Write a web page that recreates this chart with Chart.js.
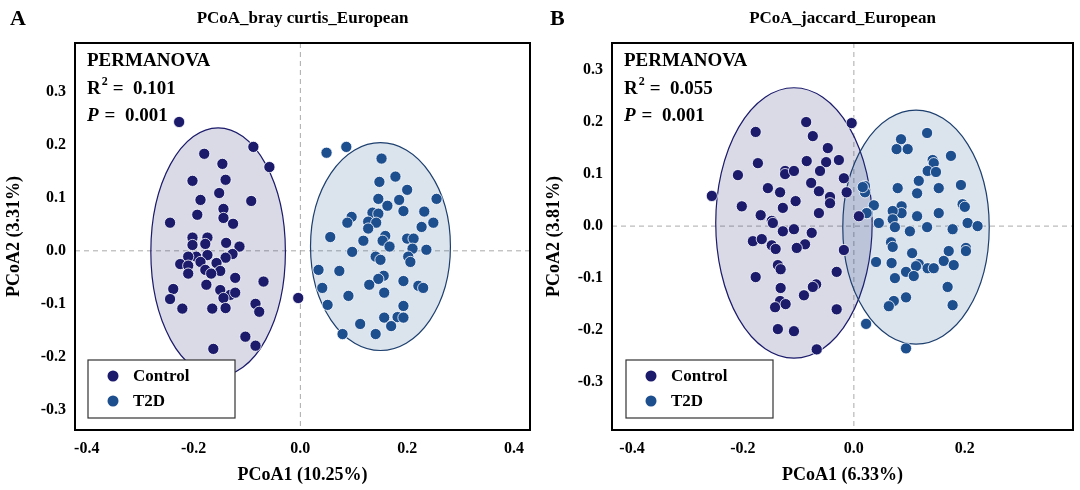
<!DOCTYPE html>
<html>
<head>
<meta charset="utf-8">
<script src="https://cdn.jsdelivr.net/npm/chart.js@4.4.0/dist/chart.umd.min.js"></script>
<style>
  body { margin: 0; background: #fff; }
  .wrap { display: flex; width: 1080px; height: 490px; }
  .panel { position: relative; width: 540px; height: 490px; }
</style>
</head>
<body>
<div class="wrap">
  <div class="panel"><canvas id="chartA" width="540" height="490"></canvas></div>
  <div class="panel"><canvas id="chartB" width="540" height="490"></canvas></div>
</div>
<script>
// panel A: bray curtis
const ctrlAx = [-0.227,-0.18,-0.146,-0.088,-0.058,-0.202,-0.14,-0.152,-0.092,-0.187,-0.144,-0.193,-0.144,-0.126,-0.244,-0.202,-0.174,-0.202,-0.178,-0.139,-0.114,-0.127,-0.174,-0.195,-0.21,-0.14,-0.187,-0.225,-0.21,-0.157,-0.178,-0.15,-0.21,-0.167,-0.122,-0.069,-0.176,-0.238,-0.15,-0.131,-0.122,-0.144,-0.244,-0.084,-0.221,-0.165,-0.14,-0.077,-0.103,-0.084,-0.163,-0.004];
const ctrlAy = [0.243,0.183,0.164,0.196,0.158,0.132,0.134,0.109,0.094,0.096,0.079,0.068,0.062,0.051,0.053,0.025,0.025,0.011,0.013,0.015,0.008,-0.006,-0.008,-0.011,-0.011,-0.013,-0.021,-0.025,-0.028,-0.023,-0.036,-0.038,-0.043,-0.043,-0.051,-0.058,-0.064,-0.072,-0.074,-0.083,-0.079,-0.089,-0.091,-0.1,-0.109,-0.109,-0.108,-0.115,-0.162,-0.179,-0.185,-0.089];
const t2dAx = [0.049,0.086,0.152,0.178,0.148,0.2,0.146,0.185,0.255,0.163,0.193,0.232,0.135,0.146,0.096,0.088,0.127,0.142,0.249,0.227,0.127,0.056,0.118,0.159,0.154,0.2,0.212,0.167,0.21,0.236,0.097,0.141,0.15,0.202,0.206,0.034,0.073,0.156,0.146,0.193,0.221,0.23,0.129,0.041,0.157,0.09,0.051,0.193,0.157,0.182,0.193,0.112,0.17,0.079,0.141];
const t2dAy = [0.185,0.196,0.174,0.14,0.13,0.115,0.098,0.096,0.098,0.085,0.075,0.074,0.072,0.07,0.064,0.053,0.055,0.053,0.053,0.045,0.042,0.026,0.019,0.028,0.019,0.023,0.023,0.008,0.004,0.002,-0.002,-0.011,-0.017,-0.011,-0.021,-0.036,-0.038,-0.047,-0.053,-0.057,-0.066,-0.07,-0.064,-0.07,-0.079,-0.085,-0.102,-0.104,-0.126,-0.125,-0.126,-0.138,-0.142,-0.157,-0.157];

// panel B: jaccard
const ctrlBx = [-0.086,-0.004,-0.177,-0.074,-0.047,-0.173,-0.085,-0.05,-0.027,-0.209,-0.124,-0.124,-0.108,-0.061,-0.018,-0.077,-0.155,-0.133,-0.063,-0.013,-0.256,-0.043,-0.043,-0.105,-0.202,-0.128,-0.063,-0.168,-0.148,0.009,-0.146,-0.128,-0.108,-0.076,-0.182,-0.166,-0.148,-0.141,-0.088,-0.103,-0.018,-0.137,-0.132,-0.031,-0.177,-0.132,-0.068,-0.074,-0.09,-0.133,-0.142,-0.123,-0.031,-0.137,-0.108,-0.067];
const ctrlBy = [0.2,0.198,0.181,0.173,0.15,0.121,0.125,0.123,0.127,0.098,0.106,0.1,0.106,0.106,0.092,0.083,0.073,0.065,0.067,0.065,0.058,0.056,0.044,0.048,0.038,0.035,0.025,0.021,0.01,0.019,0.006,-0.01,-0.006,-0.013,-0.029,-0.025,-0.037,-0.044,-0.035,-0.042,-0.046,-0.075,-0.083,-0.088,-0.098,-0.119,-0.112,-0.117,-0.133,-0.144,-0.156,-0.15,-0.16,-0.198,-0.202,-0.237];
const t2dBx = [0.132,0.085,0.077,0.097,0.175,0.142,0.144,0.133,0.148,0.117,0.02,0.02,0.079,0.153,0.193,0.114,0.036,0.025,0.086,0.086,0.07,0.07,0.196,0.2,0.114,0.153,0.045,0.205,0.223,0.074,0.132,0.101,0.178,0.067,0.07,0.202,0.202,0.105,0.171,0.04,0.068,0.117,0.112,0.162,0.18,0.133,0.144,0.094,0.108,0.074,0.169,0.094,0.072,0.063,0.178,0.022,0.094,0.016,0.023];
const t2dBy = [0.179,0.167,0.148,0.148,0.135,0.127,0.121,0.106,0.104,0.087,0.077,0.065,0.073,0.073,0.079,0.063,0.04,0.025,0.038,0.025,0.029,0.013,0.042,0.037,0.019,0.025,0.006,0.006,0,-0.002,-0.002,-0.01,-0.006,-0.031,-0.04,-0.042,-0.048,-0.052,-0.048,-0.069,-0.071,-0.073,-0.077,-0.067,-0.075,-0.081,-0.081,-0.088,-0.096,-0.1,-0.117,-0.137,-0.144,-0.154,-0.152,-0.188,-0.235,0.075,0.025];

// ellipses: [centerX, centerY, radiusX, radiusY]
const ellCtrlA = [-0.154, -0.002, 0.126, 0.234];
const ellT2dA = [0.15, 0.008, 0.131, 0.196];
const ellCtrlB = [-0.108, 0.006, 0.141, 0.26];
const ellT2dB = [0.112, -0.002, 0.132, 0.225];

const groups = ["Control", "T2D"];
const xTicksA = [-0.4, -0.2, 0, 0.2, 0.4];
const xTicksB = [-0.4, -0.2, 0, 0.2];
const yTicks = [-0.3, -0.2, -0.1, 0, 0.1, 0.2, 0.3];

const ctrlColor = "#1b1a6b";
const t2dColor = "#1d4e8e";
const serif = "'Liberation Serif', 'DejaVu Serif', serif";

function pts(xs, ys) { return xs.map((x, i) => ({ x: x, y: ys[i] })); }
function fmt(v) { return Math.abs(v) < 1e-9 ? "0.0" : String(Math.round(v * 10) / 10); }

const decor = {
  id: "decor",
  beforeDatasetsDraw(chart) {
    const o = chart.options.plugins.decor;
    const c = chart.ctx, xs = chart.scales.x, ys = chart.scales.y, a = chart.chartArea;
    c.save();
    c.beginPath(); c.rect(a.left, a.top, a.right - a.left, a.bottom - a.top); c.clip();
    // dashed zero lines
    c.strokeStyle = "#aaa"; c.lineWidth = 1; c.setLineDash([5, 4]);
    c.beginPath();
    c.moveTo(xs.getPixelForValue(0), a.top); c.lineTo(xs.getPixelForValue(0), a.bottom);
    c.moveTo(a.left, ys.getPixelForValue(0)); c.lineTo(a.right, ys.getPixelForValue(0));
    c.stroke(); c.setLineDash([]);
    // ellipses
    o.ellipses.forEach(e => {
      const cx = xs.getPixelForValue(e.p[0]), cy = ys.getPixelForValue(e.p[1]);
      const rx = Math.abs(xs.getPixelForValue(e.p[0] + e.p[2]) - cx);
      const ry = Math.abs(ys.getPixelForValue(e.p[1] + e.p[3]) - cy);
      c.beginPath(); c.ellipse(cx, cy, rx, ry, 0, 0, Math.PI * 2);
      c.fillStyle = e.fill; c.fill();
      c.strokeStyle = e.stroke; c.lineWidth = 1.2; c.stroke();
    });
    c.restore();
  },
  afterDraw(chart) {
    const o = chart.options.plugins.decor;
    const c = chart.ctx, a = chart.chartArea;
    c.save();
    c.strokeStyle = "#000"; c.lineWidth = 2;
    c.strokeRect(a.left, a.top, a.right - a.left, a.bottom - a.top);
    c.fillStyle = "#000";
    c.font = "bold 22px " + serif; c.textBaseline = "top"; c.textAlign = "left";
    c.fillText(o.letter, 10, 8);
    c.font = "bold 17px " + serif; c.textAlign = "center";
    c.fillText(o.title, (a.left + a.right) / 2, 10);
    // PERMANOVA text
    const tx = a.left + 12;
    c.textAlign = "left"; c.textBaseline = "alphabetic";
    c.font = "bold 19px " + serif;
    c.fillText("PERMANOVA", tx, a.top + 23);
    c.fillText("R", tx, a.top + 51);
    let w = c.measureText("R").width;
    c.font = "bold 12px " + serif; c.fillText("2", tx + w + 1, a.top + 42);
    c.font = "bold 19px " + serif; c.fillText("=  " + o.r2, tx + w + 12, a.top + 51);
    c.font = "bold italic 19px " + serif; c.fillText("P", tx, a.top + 78);
    w = c.measureText("P").width;
    c.font = "bold 19px " + serif; c.fillText("=  0.001", tx + w + 6, a.top + 78);
    // legend
    const lx = a.left + (o.letter === "A" ? 13 : 14), ly = a.bottom - 70;
    c.fillStyle = "#fff"; c.fillRect(lx, ly, 147, 58);
    c.strokeStyle = "#333"; c.lineWidth = 1.2; c.strokeRect(lx, ly, 147, 58);
    [ctrlColor, t2dColor].forEach((col, i) => {
      const yy = ly + 16 + i * 25;
      c.beginPath(); c.arc(lx + 25, yy, 5.5, 0, Math.PI * 2);
      c.fillStyle = col; c.fill();
      c.fillStyle = "#000"; c.font = "bold 17px " + serif; c.textBaseline = "middle";
      c.fillText(groups[i], lx + 45, yy + 1);
    });
    c.restore();
  }
};

function makeChart(id, o) {
  new Chart(document.getElementById(id), {
    type: "scatter",
    data: {
      datasets: [
        { label: groups[0], data: pts(o.cx, o.cy), backgroundColor: ctrlColor, borderColor: "#fff", borderWidth: 0.8, pointRadius: 5.6 },
        { label: groups[1], data: pts(o.tx, o.ty), backgroundColor: t2dColor, borderColor: "#fff", borderWidth: 0.8, pointRadius: 5.6 }
      ]
    },
    options: {
      responsive: false,
      animation: false,
      layout: { padding: { top: 43, right: o.padRight, left: 0, bottom: 0 } },
      plugins: {
        legend: { display: false },
        tooltip: { enabled: false },
        decor: { letter: o.letter, title: o.title, r2: o.r2, ellipses: o.ellipses }
      },
      scales: {
        x: {
          type: "linear", min: o.xMin, max: o.xMax,
          afterBuildTicks: s => { s.ticks = o.xTicks.map(v => ({ value: v })); },
          afterFit: s => { s.height = 60; },
          grid: { display: false, drawTicks: true, tickLength: 6, tickColor: "#000" },
          border: { display: false },
          ticks: { color: "#000", font: { family: serif, size: 16, weight: "bold" }, callback: v => fmt(v), padding: 3 },
          title: { display: true, text: o.xTitle, color: "#000", font: { family: serif, size: 18, weight: "bold" }, padding: { top: 0 } }
        },
        y: {
          type: "linear", min: o.yMin, max: o.yMax,
          afterBuildTicks: s => { s.ticks = yTicks.map(v => ({ value: v })); },
          afterFit: s => { s.width = o.yWidth; },
          grid: { display: false, drawTicks: true, tickLength: 6, tickColor: "#000" },
          border: { display: false },
          ticks: { color: "#000", font: { family: serif, size: 16, weight: "bold" }, callback: v => fmt(v), padding: 3 },
          title: { display: true, text: o.yTitle, color: "#000", font: { family: serif, size: 18, weight: "bold" }, padding: { bottom: 2 } }
        }
      }
    },
    plugins: [decor]
  });
}

makeChart("chartA", {
  letter: "A", title: "PCoA_bray curtis_European", r2: "0.101",
  cx: ctrlAx, cy: ctrlAy, tx: t2dAx, ty: t2dAy,
  ellipses: [
    { p: ellCtrlA, fill: "rgba(27,26,107,0.16)", stroke: ctrlColor },
    { p: ellT2dA, fill: "rgba(29,78,142,0.16)", stroke: "#1d3f6e" }
  ],
  xMin: -0.422, xMax: 0.43, yMin: -0.338, yMax: 0.392,
  xTicks: xTicksA, xTitle: "PCoA1 (10.25%)", yTitle: "PCoA2 (3.31%)",
  yWidth: 75, padRight: 10
});

makeChart("chartB", {
  letter: "B", title: "PCoA_jaccard_European", r2: "0.055",
  cx: ctrlBx, cy: ctrlBy, tx: t2dBx, ty: t2dBy,
  ellipses: [
    { p: ellCtrlB, fill: "rgba(27,26,107,0.16)", stroke: ctrlColor },
    { p: ellT2dB, fill: "rgba(29,78,142,0.16)", stroke: "#1d3f6e" }
  ],
  xMin: -0.436, xMax: 0.395, yMin: -0.392, yMax: 0.352,
  xTicks: xTicksB, xTitle: "PCoA1 (6.33%)", yTitle: "PCoA2 (3.81%)",
  yWidth: 72, padRight: 7
});
</script>
</body>
</html>
